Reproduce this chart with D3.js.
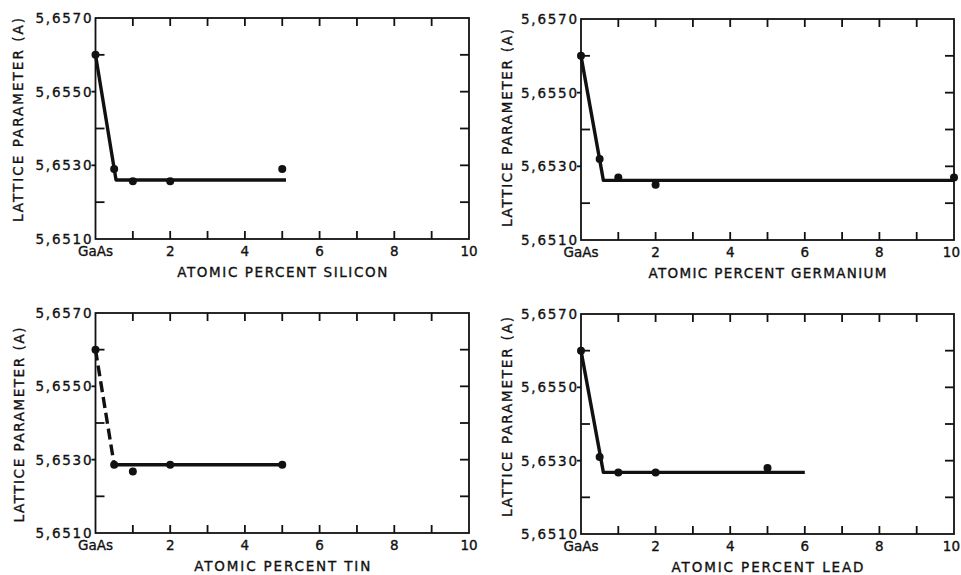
<!DOCTYPE html>
<html>
<head>
<meta charset="utf-8">
<script src="https://cdn.jsdelivr.net/npm/d3@7"></script>
<style>
  html, body { margin: 0; padding: 0; background: #fff; }
  svg text { font-family: "DejaVu Sans", sans-serif; fill: #111; stroke: #111; stroke-width: 0.35px; }
</style>
</head>
<body>
<svg id="chart" width="961" height="575"></svg>
<script>
// ---- data ----
const xTickValues = [0, 2, 4, 6, 8, 10];
const xTickLabels = ["GaAs", "2", "4", "6", "8", "10"];
const yTickValues = [5.6570, 5.6550, 5.6530, 5.6510];
const yTickLabels = ["5,6570", "5,6550", "5,6530", "5,6510"];
const yTitle = "LATTICE PARAMETER (A)";

const siliconX = [0, 0.5, 1, 2, 5];
const siliconY = [5.6560, 5.6529, 5.65257, 5.65257, 5.6529];
const siliconLineX = [0, 0.55, 5.1];
const siliconLineY = [5.6560, 5.6526, 5.6526];

const germaniumX = [0, 0.5, 1, 2, 10];
const germaniumY = [5.6560, 5.6532, 5.6527, 5.6525, 5.6527];
const germaniumLineX = [0, 0.6, 10];
const germaniumLineY = [5.6560, 5.65262, 5.65262];

const tinX = [0, 0.5, 1, 2, 5];
const tinY = [5.6560, 5.65286, 5.65268, 5.65286, 5.65286];
const tinDashX = [0, 0.5];
const tinDashY = [5.6560, 5.65286];
const tinLineX = [0.5, 5];
const tinLineY = [5.65286, 5.65286];

const leadX = [0, 0.5, 1, 2, 5];
const leadY = [5.6560, 5.6531, 5.65268, 5.65268, 5.6528];
const leadLineX = [0, 0.6, 6];
const leadLineY = [5.6560, 5.65268, 5.65268];

const panels = [
  {title: "ATOMIC PERCENT SILICON", titleW: 210, left: 95.5, right: 469, top: 18, bottom: 239,
   ytx: 18, yty: 120, ytw: 204,
   px: siliconX, py: siliconY, lines: [{x: siliconLineX, y: siliconLineY, dash: null}]},
  {title: "ATOMIC PERCENT GERMANIUM", titleW: 238, left: 581, right: 954, top: 19, bottom: 240,
   ytx: 507, yty: 128, ytw: 198,
   px: germaniumX, py: germaniumY, lines: [{x: germaniumLineX, y: germaniumLineY, dash: null}]},
  {title: "ATOMIC PERCENT TIN", titleW: 176, left: 95.5, right: 469, top: 313, bottom: 533,
   ytx: 19, yty: 425, ytw: 195,
   px: tinX, py: tinY, lines: [{x: tinDashX, y: tinDashY, dash: "11,5"}, {x: tinLineX, y: tinLineY, dash: null}]},
  {title: "ATOMIC PERCENT LEAD", titleW: 192, left: 581, right: 954, top: 314, bottom: 534,
   ytx: 507, yty: 417, ytw: 200,
   px: leadX, py: leadY, lines: [{x: leadLineX, y: leadLineY, dash: null}]}
];

const svg = d3.select("#chart");
const W = 961;
const ink = "#111";

panels.forEach(p => {
  const x = d3.scaleLinear().domain([0, 10]).range([p.left, p.right]);
  const y = d3.scaleLinear().domain([5.6510, 5.6570]).range([p.bottom, p.top]);
  const g = svg.append("g");

  // frame
  g.append("rect")
    .attr("x", p.left).attr("y", p.top)
    .attr("width", p.right - p.left).attr("height", p.bottom - p.top)
    .attr("fill", "none").attr("stroke", ink).attr("stroke-width", 1.8);

  // inner ticks on top & bottom
  const xMinor = d3.range(1, 10);
  const tl = 8;
  g.selectAll(".tt").data(xMinor).enter().append("line")
    .attr("x1", d => x(d)).attr("x2", d => x(d))
    .attr("y1", p.top).attr("y2", p.top + tl)
    .attr("stroke", ink).attr("stroke-width", 1.8);
  g.selectAll(".tb").data(xMinor).enter().append("line")
    .attr("x1", d => x(d)).attr("x2", d => x(d))
    .attr("y1", p.bottom).attr("y2", p.bottom - tl)
    .attr("stroke", ink).attr("stroke-width", 1.8);

  // y ticks
  const yMinor = [5.6560, 5.6550, 5.6540, 5.6530, 5.6520];
  g.selectAll(".tr").data(yMinor).enter().append("line")
    .attr("x1", p.right).attr("x2", p.right - 9)
    .attr("y1", d => y(d)).attr("y2", d => y(d))
    .attr("stroke", ink).attr("stroke-width", 1.8);
  g.selectAll(".tl").data(yMinor).enter().append("line")
    .attr("x1", d => yTickValues.includes(d) ? p.left - 4 : p.left)
    .attr("x2", d => yTickValues.includes(d) ? p.left : p.left + 9)
    .attr("y1", d => y(d)).attr("y2", d => y(d))
    .attr("stroke", ink).attr("stroke-width", 1.8);

  // y tick labels
  g.selectAll(".yl").data(yTickValues).enter().append("text")
    .attr("x", p.left - 4).attr("y", d => y(d) + 5)
    .attr("text-anchor", "end")
    .attr("font-size", 13.5)
    .attr("textLength", 56).attr("lengthAdjust", "spacing")
    .text((d, i) => yTickLabels[i]);

  // x tick labels
  g.selectAll(".xl").data(xTickValues).enter().append("text")
    .attr("x", d => x(d)).attr("y", p.bottom + 17)
    .attr("text-anchor", "middle")
    .attr("font-size", 13.5)
    .text((d, i) => xTickLabels[i])
    .each(function() {
      const b = this.getBBox();
      const over = b.x + b.width - (W - 1);
      if (over > 0) d3.select(this).attr("x", +d3.select(this).attr("x") - over);
    });

  // x title
  g.append("text")
    .attr("x", (p.left + p.right) / 2).attr("y", p.bottom + 38)
    .attr("text-anchor", "middle")
    .attr("font-size", 13.5)
    .attr("textLength", p.titleW).attr("lengthAdjust", "spacing")
    .text(p.title);

  // y title
  g.append("text")
    .attr("transform", `translate(${p.ytx + 5},${p.yty}) rotate(-90)`)
    .attr("text-anchor", "middle")
    .attr("font-size", 13.5)
    .attr("textLength", p.ytw).attr("lengthAdjust", "spacing")
    .text(yTitle);

  // lines
  const lineGen = d3.line().x(d => x(d[0])).y(d => y(d[1]));
  p.lines.forEach(l => {
    const pts = l.x.map((v, i) => [v, l.y[i]]);
    g.append("path")
      .attr("d", lineGen(pts))
      .attr("fill", "none").attr("stroke", ink)
      .attr("stroke-width", 3.4)
      .attr("stroke-linejoin", "round")
      .attr("stroke-dasharray", l.dash);
  });

  // points
  const pts = p.px.map((v, i) => [v, p.py[i]]);
  g.selectAll(".pt").data(pts).enter().append("circle")
    .attr("cx", d => x(d[0])).attr("cy", d => y(d[1]))
    .attr("r", 4).attr("fill", ink);
});
</script>
</body>
</html>
